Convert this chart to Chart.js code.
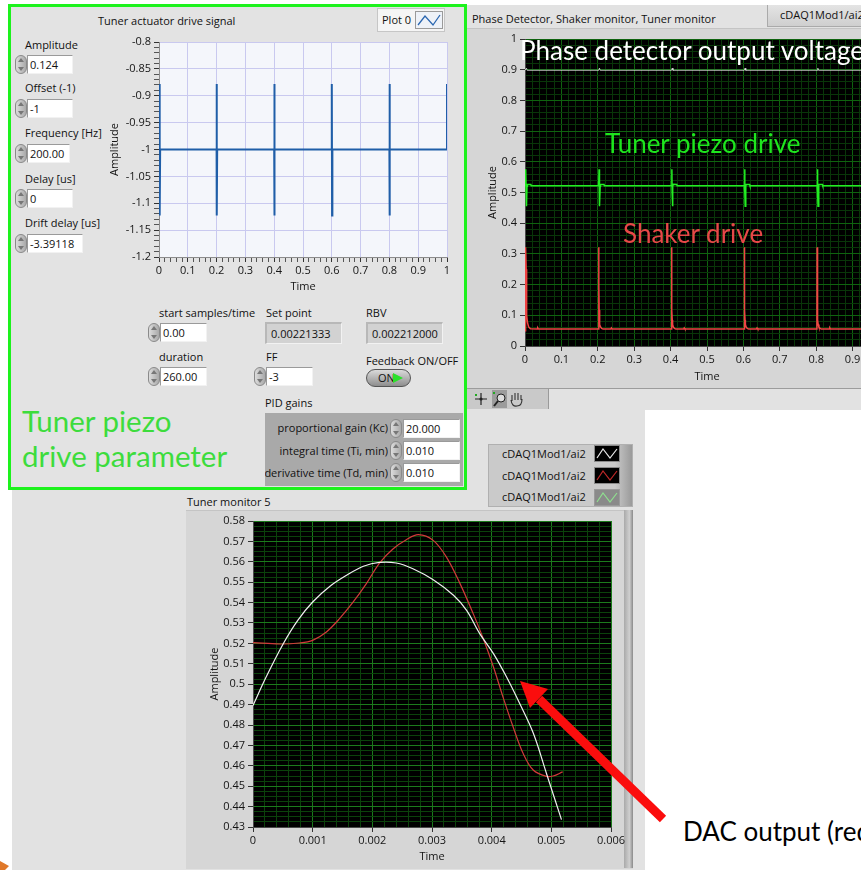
<!DOCTYPE html>
<html>
<head>
<meta charset="utf-8">
<script src="https://cdn.jsdelivr.net/npm/chart.js@4.4.0/dist/chart.umd.min.js"></script>
<style>
  html, body { margin: 0; padding: 0; }
  body { width: 861px; height: 870px; overflow: hidden; position: relative; background: #fff;
         font-family: "Open Sans", sans-serif; }
  .abs { position: absolute; }
  .t { position: absolute; font-size: 11px; line-height: 14px; color: #111; white-space: nowrap; }
  .num, .ind { position: absolute; height: 19px; box-sizing: border-box; background: #fff;
         border-top: 1px solid #9a9a9a; border-left: 1px solid #9a9a9a;
         border-right: 1px solid #f2f2f2; border-bottom: 1px solid #f2f2f2;
         font-size: 11px; line-height: 17px; padding-left: 2px; color: #111; white-space: nowrap; }
  .ind { background: #d2d2d2; height: 22px; line-height: 20px; padding-left: 4px; border-top: 2px solid #b8b8b8; border-left: 2px solid #b8b8b8; }
  .spin { position: absolute; width: 12px; height: 19px; box-sizing: border-box; border-radius: 6px;
          background: linear-gradient(90deg, #dcdcdc, #a9a9a9); border: 1px solid #8a8a8a; }
  .spin:before, .spin:after { content: ''; position: absolute; left: 2px; width: 0; height: 0;
          border-left: 3px solid transparent; border-right: 3px solid transparent; }
  .spin:before { top: 2px; border-bottom: 4px solid #777; }
  .spin:after { bottom: 2px; border-top: 4px solid #777; }
  .big { position: absolute; font-family: Lato, sans-serif; line-height: 1.2; white-space: nowrap; }
  canvas { position: absolute; }
</style>
</head>
<body>

<!-- panels -->
<div class="abs" style="left:466px;top:5px;width:395px;height:405px;background:#e2e2e2"></div>
<div class="abs" style="left:466px;top:28px;width:395px;height:359px;background:#d6d6d6;border-top:1px solid #c4c4c4;border-bottom:1px solid #9c9c9c"></div>
<div class="abs" style="left:467px;top:389px;width:81px;height:20px;background:#c9c9c9;border-right:1px solid #9a9a9a"></div>
<div class="abs" style="left:466px;top:410px;width:179px;height:80px;background:#e2e2e2"></div>
<div class="abs" style="left:12px;top:490px;width:633px;height:380px;background:#e2e2e2"></div>
<div class="abs" style="left:186px;top:510px;width:447px;height:358px;background:#d6d6d6;border-top:1px solid #c4c4c4"></div>
<div class="abs" style="left:624px;top:510px;width:9px;height:358px;background:linear-gradient(90deg,#a9a9a9,#cfcfcf 60%,#8a8a8a)"></div>
<div class="abs" style="left:8px;top:4px;width:459px;height:486px;box-sizing:border-box;border:3px solid #1df21d;background:#e3e3e3"></div>

<!-- top-right header -->
<div class="t" style="left:472px;top:12px">Phase Detector, Shaker monitor, Tuner monitor</div>
<div class="abs" style="left:767px;top:5px;width:94px;height:21px;background:linear-gradient(#e4e4e4,#cfcfcf);border-left:1px solid #aaa;border-bottom:1px solid #aaa"></div>
<div class="t" style="left:780px;top:8px">cDAQ1Mod1/ai2</div>

<!-- left panel controls -->
<div class="t" style="left:98px;top:14px">Tuner actuator drive signal</div>
<div class="abs" style="left:377px;top:8px;width:68px;height:24px;box-sizing:border-box;background:#f5f5f5;border:1px solid #c6c6c6"></div>
<div class="t" style="left:382px;top:13px">Plot 0</div>
<svg class="abs" style="left:415px;top:11px" width="28" height="18"><rect x="0.5" y="0.5" width="27" height="17" fill="#eef2f8" stroke="#9a9a9a"/><path d="M3,14 L10,5 L18,14 L25,4" fill="none" stroke="#2a66b0" stroke-width="1.3"/></svg>

<div class="t" style="left:25px;top:38px">Amplitude</div>
<div class="spin" style="left:15px;top:55px"></div><div class="num" style="left:27px;top:55px;width:46px">0.124</div>
<div class="t" style="left:25px;top:81px">Offset (-1)</div>
<div class="spin" style="left:15px;top:99px"></div><div class="num" style="left:27px;top:99px;width:46px">-1</div>
<div class="t" style="left:25px;top:126px">Frequency [Hz]</div>
<div class="spin" style="left:15px;top:144px"></div><div class="num" style="left:27px;top:144px;width:43px">200.00</div>
<div class="t" style="left:25px;top:172px">Delay [us]</div>
<div class="spin" style="left:15px;top:189px"></div><div class="num" style="left:27px;top:189px;width:46px">0</div>
<div class="t" style="left:25px;top:216px">Drift delay [us]</div>
<div class="spin" style="left:15px;top:234px"></div><div class="num" style="left:27px;top:234px;width:56px">-3.39118</div>

<div class="t" style="left:159px;top:306px">start samples/time</div>
<div class="spin" style="left:148px;top:323px"></div><div class="num" style="left:160px;top:323px;width:47px">0.00</div>
<div class="t" style="left:266px;top:306px">Set point</div>
<div class="ind" style="left:265px;top:322px;width:77px">0.00221333</div>
<div class="t" style="left:366px;top:306px">RBV</div>
<div class="ind" style="left:366px;top:322px;width:77px">0.002212000</div>
<div class="t" style="left:159px;top:350px">duration</div>
<div class="spin" style="left:148px;top:367px"></div><div class="num" style="left:160px;top:367px;width:47px">260.00</div>
<div class="t" style="left:266px;top:350px">FF</div>
<div class="spin" style="left:254px;top:367px"></div><div class="num" style="left:266px;top:367px;width:47px">-3</div>
<div class="t" style="left:366px;top:354px">Feedback ON/OFF</div>
<div class="abs" style="left:366px;top:369px;width:45px;height:18px;box-sizing:border-box;border-radius:9px;background:linear-gradient(#dadada,#8e8e8e);border:1px solid #555"></div>
<div class="t" style="left:378px;top:371px">ON</div>
<div class="abs" style="left:393px;top:373px;width:0;height:0;border-top:5px solid transparent;border-bottom:5px solid transparent;border-left:10px solid #2be02b"></div>

<div class="t" style="left:265px;top:396px">PID gains</div>
<div class="abs" style="left:265px;top:413px;width:198px;height:73px;background:#a9a9a9"></div>
<div class="t" style="left:265px;top:421px;width:123px;text-align:right;overflow:hidden">proportional gain (Kc)</div>
<div class="t" style="left:265px;top:444px;width:123px;text-align:right;overflow:hidden">integral time (Ti, min)</div>
<div class="t" style="left:265px;top:466px;width:123px;text-align:right;overflow:hidden;direction:rtl"><span style="direction:ltr;unicode-bidi:embed">derivative time (Td, min)</span></div>
<div class="spin" style="left:390px;top:419px"></div><div class="num" style="left:403px;top:419px;width:57px">20.000</div>
<div class="spin" style="left:390px;top:441px"></div><div class="num" style="left:403px;top:441px;width:57px">0.010</div>
<div class="spin" style="left:390px;top:463px"></div><div class="num" style="left:403px;top:463px;width:57px">0.010</div>

<div class="big" style="left:22px;top:403px;font-size:29.5px;line-height:35px;color:#3ddc3d">Tuner piezo<br>drive parameter</div>

<!-- bottom legend -->
<div class="abs" style="left:488px;top:444px;width:145px;height:63px;box-sizing:border-box;background:linear-gradient(90deg,#cacaca 88%,#9a9a9a);border:1px solid #b0b0b0"></div>
<div class="t" style="left:502px;top:447px">cDAQ1Mod1/ai2</div>
<div class="t" style="left:502px;top:469px">cDAQ1Mod1/ai2</div>
<div class="t" style="left:502px;top:490px">cDAQ1Mod1/ai2</div>
<svg class="abs" style="left:594px;top:445px" width="26" height="62">
  <rect x="0.5" y="0.5" width="25" height="16" fill="#000" stroke="#8a8a8a"/>
  <path d="M3,13 L9,4 L16,13 L23,4" fill="none" stroke="#e8e8e8" stroke-width="1.2"/>
  <rect x="0.5" y="22.5" width="25" height="16" fill="#000" stroke="#8a8a8a"/>
  <path d="M3,35 L9,26 L16,35 L23,26" fill="none" stroke="#c02828" stroke-width="1.2"/>
  <rect x="0.5" y="44.5" width="25" height="16" fill="#8a8a8a" stroke="#9a9a9a"/>
  <path d="M3,57 L9,48 L16,57 L23,48" fill="none" stroke="#8fe08f" stroke-width="1.2"/>
</svg>
<div class="t" style="left:187px;top:495px">Tuner monitor 5</div>

<!-- toolbar -->
<svg class="abs" style="left:467px;top:389px" width="81" height="20">
  <path d="M8,10 H20 M14,4 V16" stroke="#222" stroke-width="1.2"/><circle cx="14" cy="10" r="1.6" fill="#222"/><rect x="8" y="5" width="2" height="2" fill="#2a2"/>
  <rect x="25" y="1" width="15" height="18" fill="#9c9c9c"/>
  <circle cx="34" cy="9" r="4" fill="#ddd" stroke="#222"/><path d="M31,12 L27,17" stroke="#222" stroke-width="2"/><rect x="26" y="3" width="2" height="2" fill="#2a2"/>
  <path d="M45,12 L45,6 M48,11 L48,4 M51,11 L51,4 M54,11 L54,6 M44,11 Q45,18 50,17 Q55,17 55,10" fill="none" stroke="#333" stroke-width="1.1"/>
</svg>

<canvas id="driveChart" width="360" height="275" style="left:100px;top:30px"></canvas>
<canvas id="phaseChart" width="440" height="360" style="left:466px;top:28px"></canvas>
<canvas id="monitorChart" width="447" height="358" style="left:186px;top:510px"></canvas>

<!-- annotations -->
<div class="big" style="left:520px;top:35px;font-size:26px;color:#fff">Phase detector output voltage</div>
<div class="big" style="left:605px;top:128px;font-size:26px;color:#1ee61e">Tuner piezo drive</div>
<div class="big" style="left:623px;top:218px;font-size:26px;color:#e84848">Shaker drive</div>
<div class="big" style="left:683px;top:816px;font-size:26px;color:#000">DAC output (red)</div>

<svg class="abs" style="left:0;top:0;pointer-events:none" width="861" height="870">
  <line x1="539" y1="699" x2="663" y2="819" stroke="#fb0d0d" stroke-width="9"/>
  <polygon points="520,681 548,689 530,708" fill="#fb0d0d"/>
  <polygon points="0,861 9,866 5,870 0,870" fill="#e0782a"/>
</svg>

<script>
// ---- Tuner actuator drive signal ----
const driveTime = [0, 0.002, 0.002, 0.003, 0.004, 0.2, 0.2, 0.201, 0.202, 0.4, 0.4, 0.401, 0.402,
                   0.6, 0.6, 0.601, 0.602, 0.8, 0.8, 0.801, 0.802, 1, 1];
const driveAmp = [-1, -1, -0.878, -1.123, -1, -1, -0.878, -1.123, -1, -1, -0.878, -1.123, -1,
                  -1, -0.878, -1.123, -1, -1, -0.878, -1.123, -1, -1, -0.878];
const driveXTicks = [0, 0.1, 0.2, 0.3, 0.4, 0.5, 0.6, 0.7, 0.8, 0.9, 1];
const driveYTicks = [-0.8, -0.85, -0.9, -0.95, -1, -1.05, -1.1, -1.15, -1.2];

// ---- Phase detector / shaker / tuner monitor ----
const shakerTime = [0, 0.0008, 0.0015, 0.0025, 0.0033, 0.004, 0.005, 0.007, 0.01, 0.015, 0.033, 0.035, 0.037,
  0.202, 0.2025, 0.2031, 0.2037, 0.2045, 0.2055, 0.2075, 0.2105, 0.2145, 0.2355, 0.2375, 0.2395,
  0.402, 0.4025, 0.4031, 0.4037, 0.4045, 0.4055, 0.4075, 0.4105, 0.4145, 0.4355, 0.4375, 0.4395,
  0.602, 0.6025, 0.6031, 0.6037, 0.6045, 0.6055, 0.6075, 0.6105, 0.6145, 0.6355, 0.6375, 0.6395,
  0.802, 0.8025, 0.8031, 0.8037, 0.8045, 0.8055, 0.8075, 0.8105, 0.8145, 0.8355, 0.8375, 0.8395,
  1];
const shakerV = [0.05, 0.16, 0.26, 0.322, 0.25, 0.16, 0.1, 0.075, 0.062, 0.056, 0.055, 0.059, 0.055,
  0.055, 0.322, 0.2, 0.117, 0.085, 0.07, 0.062, 0.057, 0.055, 0.055, 0.059, 0.055,
  0.055, 0.322, 0.2, 0.117, 0.085, 0.07, 0.062, 0.057, 0.055, 0.055, 0.059, 0.055,
  0.055, 0.322, 0.2, 0.117, 0.085, 0.07, 0.062, 0.057, 0.055, 0.055, 0.059, 0.055,
  0.055, 0.322, 0.2, 0.117, 0.085, 0.07, 0.062, 0.057, 0.055, 0.055, 0.059, 0.055,
  0.055];
const piezoTime = [0, 0.0015, 0.0025, 0.0032, 0.004, 0.0055, 0.0065, 0.016, 0.017,
  0.2025, 0.2035, 0.2042, 0.205, 0.2065, 0.2075, 0.217, 0.218,
  0.4025, 0.4035, 0.4042, 0.405, 0.4065, 0.4075, 0.417, 0.418,
  0.6025, 0.6035, 0.6042, 0.605, 0.6065, 0.6075, 0.617, 0.618,
  0.8025, 0.8035, 0.8042, 0.805, 0.8065, 0.8075, 0.817, 0.818,
  1];
const piezoV = [0.522, 0.522, 0.576, 0.5, 0.455, 0.52, 0.527, 0.526, 0.522,
  0.522, 0.576, 0.5, 0.455, 0.52, 0.527, 0.526, 0.522,
  0.522, 0.576, 0.5, 0.455, 0.52, 0.527, 0.526, 0.522,
  0.522, 0.576, 0.5, 0.455, 0.52, 0.527, 0.526, 0.522,
  0.522, 0.576, 0.5, 0.455, 0.52, 0.527, 0.526, 0.522,
  0.522];
const phaseTime = [0, 0.002, 0.004, 0.006, 0.2025, 0.2045, 0.2065, 0.4025, 0.4045, 0.4065,
  0.6025, 0.6045, 0.6065, 0.8025, 0.8045, 0.8065, 1];
const phaseV = [0.898, 0.898, 0.905, 0.898, 0.898, 0.905, 0.898, 0.898, 0.905, 0.898,
  0.898, 0.905, 0.898, 0.898, 0.905, 0.898, 0.898];
const phaseXTicks = [0, 0.1, 0.2, 0.3, 0.4, 0.5, 0.6, 0.7, 0.8, 0.9, 1];
const phaseYTicks = [0, 0.1, 0.2, 0.3, 0.4, 0.5, 0.6, 0.7, 0.8, 0.9, 1];

// ---- Tuner monitor 5 ----
const dacTime = [0, 0.00022, 0.0005, 0.00075, 0.001, 0.00129, 0.00157, 0.00185, 0.00212, 0.0024, 0.00268,
  0.00302, 0.00336, 0.00358, 0.0038, 0.00403, 0.00425, 0.00447, 0.0047, 0.00492, 0.00517];
const dacV = [0.4896, 0.5035, 0.5195, 0.5313, 0.5403, 0.548, 0.5534, 0.5578, 0.5597, 0.5594, 0.5566,
  0.5512, 0.5436, 0.5362, 0.5248, 0.515, 0.5035, 0.4905, 0.4758, 0.4561, 0.4336];
const monTime = [0, 0.00045, 0.00078, 0.001, 0.00123, 0.00145, 0.00168, 0.0019, 0.00212, 0.00235, 0.00257,
  0.00277, 0.00302, 0.00324, 0.00347, 0.00369, 0.00386, 0.00403, 0.00419, 0.00436, 0.00453, 0.0047,
  0.00492, 0.00503, 0.00519];
const monV = [0.5204, 0.5197, 0.5202, 0.5215, 0.5256, 0.5321, 0.5403, 0.5493, 0.5594, 0.5664, 0.5708,
  0.5733, 0.5705, 0.5624, 0.5493, 0.5346, 0.5223, 0.5084, 0.4937, 0.479, 0.4659, 0.4578,
  0.4548, 0.455, 0.457];
const monXTicks = [0, 0.001, 0.002, 0.003, 0.004, 0.005, 0.006];
const monYTicks = [0.43, 0.44, 0.45, 0.46, 0.47, 0.48, 0.49, 0.5, 0.51, 0.52, 0.53, 0.54, 0.55, 0.56, 0.57, 0.58];

Chart.defaults.font.family = '"Open Sans", sans-serif';
Chart.defaults.font.size = 11;
Chart.defaults.color = '#151515';

function near(v, list) { return list.some(t => Math.abs(t - v) < 1e-7); }
function fmt(v) { return String(parseFloat(v.toFixed(6))); }
function xy(ts, vs) { return ts.map((t, i) => ({ x: t, y: vs[i] })); }

// LabVIEW-like axis: ticks every minor step, labels and bright grid only on the major values
function axis(min, max, step, labels, o) {
  return {
    type: 'linear', min: min, max: max,
    ticks: { stepSize: step, autoSkip: false, maxRotation: 0, padding: o.pad, color: '#151515',
             callback: v => near(v, labels) ? fmt(v) : '' },
    grid: { color: c => near(c.tick.value, labels) ? o.major : o.minor,
            tickColor: c => near(c.tick.value, labels) ? '#333' : o.minorTick,
            tickLength: 5, lineWidth: 1 },
    border: { color: o.border, width: 1 },
    title: { display: true, text: o.title, color: '#151515', font: { size: 11 }, padding: o.titlePad },
    afterFit: s => { if (s.isHorizontal()) s.height = o.size; else s.width = o.size; }
  };
}

const plotBg = {
  id: 'plotBg',
  beforeDraw(chart, args, opts) {
    const { ctx, chartArea: a } = chart;
    ctx.save();
    ctx.fillStyle = opts.color;
    ctx.fillRect(a.left, a.top, a.right - a.left, a.bottom - a.top);
    ctx.restore();
  }
};

function makeChart(id, datasets, xs, ys, pad, bg) {
  return new Chart(document.getElementById(id), {
    type: 'line',
    data: { datasets: datasets },
    options: {
      responsive: false, animation: false, devicePixelRatio: 1,
      layout: { padding: pad },
      elements: { point: { radius: 0 } },
      plugins: { legend: { display: false }, tooltip: { enabled: false }, plotBg: { color: bg } },
      scales: { x: xs, y: ys }
    },
    plugins: [plotBg]
  });
}

makeChart('driveChart',
  [{ label: 'Plot 0', data: xy(driveTime, driveAmp), borderColor: '#1f5ea8', borderWidth: 2, tension: 0 }],
  axis(0, 1, 0.02, driveXTicks, { pad: 2, major: '#c9c9ef', minor: 'transparent', minorTick: '#555',
       border: '#8c8c8c', title: 'Time', titlePad: { top: 0, bottom: 7 }, size: 43 }),
  axis(-1.2, -0.8, 0.01, driveYTicks, { pad: 3, major: '#c9c9ef', minor: 'transparent', minorTick: '#555',
       border: '#8c8c8c', title: 'Amplitude', titlePad: { top: 2, bottom: 0 }, size: 53 }),
  { left: 6, top: 12, right: 13, bottom: 5 }, '#f4f6fb');

makeChart('phaseChart',
  [{ label: 'Phase detector', data: xy(phaseTime, phaseV), borderColor: 'rgba(235,235,235,0.75)', borderWidth: 1, tension: 0 },
   { label: 'Tuner piezo drive', data: xy(piezoTime, piezoV), borderColor: '#22ee22', borderWidth: 1.5, tension: 0 },
   { label: 'Shaker drive', data: xy(shakerTime, shakerV), borderColor: '#f04444', borderWidth: 1.5, tension: 0 }],
  axis(0, 1, 0.02, phaseXTicks, { pad: 2, major: '#0f630f', minor: '#093609', minorTick: 'transparent',
       border: '#4a4a4a', title: 'Time', titlePad: { top: 0, bottom: 5 }, size: 42 }),
  axis(0, 1, 0.02, phaseYTicks, { pad: 3, major: '#0f630f', minor: '#093609', minorTick: 'transparent',
       border: '#4a4a4a', title: 'Amplitude', titlePad: { top: 20, bottom: 0 }, size: 59 }),
  { left: 0, top: 11, right: 17, bottom: 0 }, '#000');

makeChart('monitorChart',
  [{ label: 'cDAQ1Mod1/ai2', data: xy(dacTime, dacV), borderColor: '#f0f0f0', borderWidth: 1.2, tension: 0.35 },
   { label: 'cDAQ1Mod1/ai2', data: xy(monTime, monV), borderColor: '#d23a3a', borderWidth: 1.2, tension: 0.35 }],
  axis(0, 0.006, 0.0002, monXTicks, { pad: 2, major: '#1c7a1c', minor: '#0b420b', minorTick: 'transparent',
       border: '#4a4a4a', title: 'Time', titlePad: { top: 0, bottom: 5 }, size: 41 }),
  axis(0.43, 0.58, 0.0025, monYTicks, { pad: 3, major: '#1c7a1c', minor: '#0b420b', minorTick: 'transparent',
       border: '#4a4a4a', title: 'Amplitude', titlePad: { top: 22, bottom: 0 }, size: 67 }),
  { left: 0, top: 11, right: 22, bottom: 0 }, '#000');
</script>
</body>
</html>
